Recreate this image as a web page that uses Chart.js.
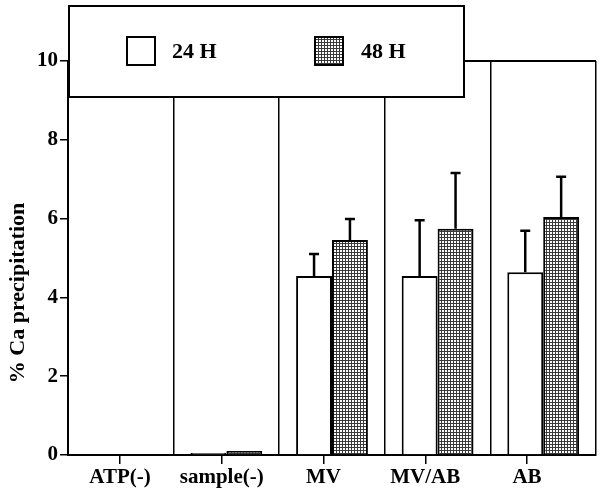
<!DOCTYPE html>
<html>
<head>
<meta charset="utf-8">
<script src="https://cdn.jsdelivr.net/npm/chart.js@4.4.1/dist/chart.umd.min.js"></script>
<style>
body{margin:0;background:#fff;}
#wrap{width:600px;height:495px;position:relative;}
</style>
</head>
<body>
<div id="wrap"><canvas id="CaChart"></canvas></div>
<script>
// data
const groups = ['ATP(-)', 'sample(-)', 'MV', 'MV/AB', 'AB'];
const h24 = [0, 0.05, 4.54, 4.54, 4.64];
const h48 = [0, 0.10, 5.46, 5.74, 6.04];
const sd24 = [0, 0, 0.56, 1.42, 1.05];
const sd48 = [0, 0, 0.53, 1.42, 1.02];
const yTicks = [0, 2, 4, 6, 8, 10];
const seriesNames = ['24 H', '48 H'];
const yTitle = '% Ca precipitation';

const serif = "'Liberation Serif', 'Times New Roman', serif";

// stippled grey fill
function makeStipple() {
  const c = document.createElement('canvas');
  c.width = 3; c.height = 3;
  const g = c.getContext('2d');
  g.fillStyle = '#fff';
  g.fillRect(0, 0, 3, 3);
  g.fillStyle = '#3a3a3a';
  g.fillRect(0, 0, 3, 1);
  g.fillRect(0, 0, 1, 3);
  return g.createPattern(c, 'repeat');
}
const stipple = makeStipple();

const errs = [sd24, sd48];

const extras = {
  id: 'extras',
  afterDatasetsDraw(chart) {
    const ctx = chart.ctx;
    const y = chart.scales.y;
    const area = chart.chartArea;
    ctx.save();
    // error bars (upper only)
    ctx.strokeStyle = '#000';
    ctx.lineWidth = 2.5;
    chart.data.datasets.forEach((ds, di) => {
      const meta = chart.getDatasetMeta(di);
      meta.data.forEach((bar, i) => {
        const sd = errs[di][i];
        if (!sd) return;
        const top = y.getPixelForValue(ds.data[i] + sd);
        ctx.beginPath();
        ctx.moveTo(bar.x, bar.y);
        ctx.lineTo(bar.x, top);
        ctx.moveTo(bar.x - 5, top);
        ctx.lineTo(bar.x + 5, top);
        ctx.stroke();
      });
    });

    // top frame line at the 10 level
    ctx.lineWidth = 2;
    ctx.beginPath();
    ctx.moveTo(440, area.top);
    ctx.lineTo(area.right, area.top);
    ctx.stroke();

    // legend box
    const lx = 69, ly = 6, lw = 395, lh = 91;
    ctx.fillStyle = '#fff';
    ctx.fillRect(lx, ly, lw, lh);
    ctx.lineWidth = 2;
    ctx.strokeRect(lx, ly, lw, lh);
    const items = [
      { x: 127, tx: 172, fill: '#fff' },
      { x: 315, tx: 361, fill: stipple }
    ];
    ctx.font = 'bold 22px ' + serif;
    ctx.textBaseline = 'alphabetic';
    ctx.textAlign = 'left';
    items.forEach((it, k) => {
      ctx.fillStyle = it.fill;
      ctx.fillRect(it.x, 37, 28, 28);
      ctx.lineWidth = 2;
      ctx.strokeStyle = '#000';
      ctx.strokeRect(it.x, 37, 28, 28);
      ctx.fillStyle = '#000';
      ctx.fillText(seriesNames[k], it.tx, 58);
    });

    // y axis title
    ctx.translate(18, 293);
    ctx.rotate(-Math.PI / 2);
    ctx.textAlign = 'center';
    ctx.textBaseline = 'middle';
    ctx.font = 'bold 22px ' + serif;
    ctx.fillText(yTitle, 0, 0);
    ctx.restore();
  }
};

const Cdata = {
  labels: groups,
  datasets: [
    {
      label: seriesNames[0],
      data: h24,
      backgroundColor: '#fff',
      borderColor: '#000',
      borderWidth: 2,
      categoryPercentage: 0.68,
      barPercentage: 1.0
    },
    {
      label: seriesNames[1],
      data: h48,
      backgroundColor: stipple,
      borderColor: '#000',
      borderWidth: 2,
      categoryPercentage: 0.68,
      barPercentage: 1.0
    }
  ]
};

// label axis: ticks sit a bit left of the bar groups in the original
const lblMin = -0.511, lblMax = 4.678;

const Cconfig = {
  type: 'bar',
  data: Cdata,
  options: {
    responsive: true,
    maintainAspectRatio: false,
    animation: false,
    layout: { padding: { left: 0, right: 4, top: 61, bottom: 0 } },
    plugins: {
      legend: { display: false },
      tooltip: { enabled: false },
      title: { display: false }
    },
    scales: {
      x: {
        type: 'category',
        position: 'bottom',
        weight: 0,
        offset: true,
        grid: {
          display: true,
          offset: true,
          drawOnChartArea: true,
          drawTicks: false,
          tickLength: 0,
          color: '#000',
          lineWidth: 1.5
        },
        border: { display: true, color: '#000', width: 2 },
        ticks: { display: false },
        afterFit(s) { s.height = 0; }
      },
      x2: {
        type: 'linear',
        position: 'bottom',
        weight: 1,
        offset: false,
        min: lblMin,
        max: lblMax,
        afterBuildTicks(s) { s.ticks = groups.map((g, i) => ({ value: i })); },
        grid: {
          display: true,
          offset: false,
          drawOnChartArea: false,
          drawTicks: true,
          tickLength: 9,
          color: '#000',
          lineWidth: 1.5
        },
        border: { display: false },
        ticks: {
          autoSkip: false,
          maxRotation: 0,
          padding: 1,
          color: '#000',
          font: { family: serif, size: 21, weight: 'bold' },
          callback: (v) => groups[v]
        },
        afterFit(s) { s.height = 40; }
      },
      y: {
        type: 'linear',
        min: 0,
        max: 10,
        afterBuildTicks(s) { s.ticks = yTicks.map(v => ({ value: v })); },
        grid: {
          drawOnChartArea: false,
          drawTicks: true,
          tickLength: 8,
          color: '#000',
          lineWidth: 1.5
        },
        border: { display: true, color: '#000', width: 2 },
        ticks: {
          padding: 2,
          color: '#000',
          font: { family: serif, size: 21, weight: 'bold' }
        },
        afterFit(s) { s.width = 68; }
      }
    }
  },
  plugins: [extras]
};

var CaChart = new Chart(
  document.getElementById('CaChart'),
  Cconfig
);
</script>
</body>
</html>
